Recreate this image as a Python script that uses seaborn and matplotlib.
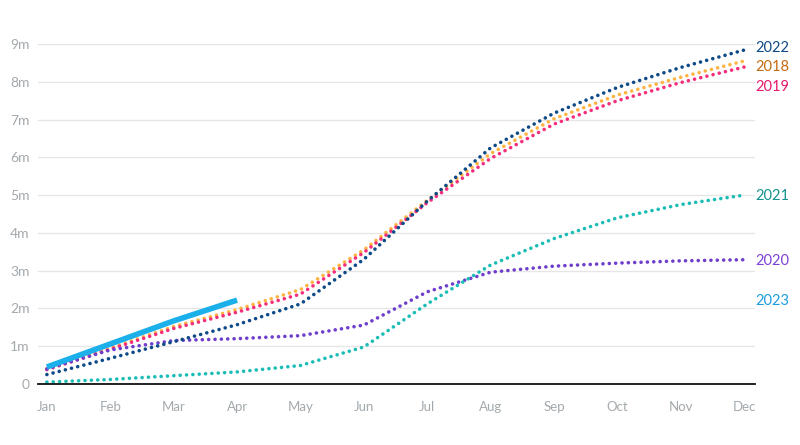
import matplotlib
matplotlib.use("Agg")
import matplotlib.pyplot as plt
import seaborn as sns
import pandas as pd
import numpy as np

months = ["Jan", "Feb", "Mar", "Apr", "May", "Jun", "Jul", "Aug", "Sep", "Oct", "Nov", "Dec"]

v2018 = [0.40, 0.95, 1.52, 1.97, 2.50, 3.55, 4.86, 6.10, 7.02, 7.65, 8.12, 8.55]
v2019 = [0.38, 0.92, 1.47, 1.90, 2.38, 3.48, 4.80, 5.97, 6.88, 7.50, 7.98, 8.39]
v2020 = [0.40, 0.90, 1.15, 1.20, 1.28, 1.56, 2.44, 2.96, 3.12, 3.20, 3.26, 3.29]
v2021 = [0.05, 0.12, 0.22, 0.32, 0.49, 0.98, 2.12, 3.15, 3.85, 4.40, 4.75, 5.00]
v2022 = [0.25, 0.68, 1.12, 1.57, 2.12, 3.30, 4.84, 6.25, 7.17, 7.85, 8.38, 8.84]
v2023 = [0.45, 1.06, 1.67, 2.22]

series = {
    "2022": (v2022, "#0e4a87", "#0e4a87"),
    "2018": (v2018, "#ffb340", "#c46a10"),
    "2019": (v2019, "#f52e7c", "#e5186c"),
    "2021": (v2021, "#19bdb5", "#13928e"),
    "2020": (v2020, "#6e3fcc", "#7b42d6"),
    "2023": (v2023, "#1bb0ea", "#1b9ee0"),
}
label_y = {"2022": 8.9, "2018": 8.38, "2019": 7.85, "2021": 4.97, "2020": 3.25, "2023": 2.2}

sns.set_theme(style="white")
plt.rcParams["font.family"] = ["Lato", "DejaVu Sans"]

fig = plt.figure(figsize=(8, 4.45), dpi=100)
ax = fig.add_axes([38 / 800, 1 - 384 / 445, (755 - 38) / 800, (384 - 44) / 445])

order = ["2018", "2019", "2020", "2021", "2022"]
for name in order:
    vals, col, _ = series[name]
    df = pd.DataFrame({"m": np.arange(len(vals)), "v": vals})
    sns.lineplot(data=df, x="m", y="v", ax=ax, color=col, linewidth=2.6,
                 linestyle=(0, (0.01, 1.75)), dash_capstyle="round", clip_on=False)
vals, col, _ = series["2023"]
df = pd.DataFrame({"m": np.arange(len(vals)), "v": vals})
sns.lineplot(data=df, x="m", y="v", ax=ax, color=col, linewidth=4,
             solid_capstyle="butt", clip_on=False)

for name, (vals, col, tcol) in series.items():
    ax.text(11.18, label_y[name], name, color=tcol, fontsize=10.5,
            va="center", ha="left", transform=ax.transData, clip_on=False)

ax.set_xlim(-0.14, 11.17)
ax.set_ylim(0, 9)
ax.set_xticks(range(12))
ax.set_xticklabels(months)
ax.set_yticks(range(10))
ax.set_yticklabels(["0"] + [f"{i}m" for i in range(1, 10)])
ax.set_xlabel("")
ax.set_ylabel("")
ax.grid(axis="y", color="#e6e6e6", linewidth=1)
ax.grid(axis="x", visible=False)
for s in ["top", "right", "left"]:
    ax.spines[s].set_visible(False)
ax.spines["bottom"].set_color("#111111")
ax.spines["bottom"].set_linewidth(1.3)
ax.tick_params(axis="x", colors="#a3a9ad", labelsize=9.5, length=5, width=1,
               direction="out", pad=7)
ax.tick_params(axis="x", color="#333333")
ax.tick_params(axis="y", colors="#a3a9ad", labelsize=10, length=0, pad=6)
ax.set_axisbelow(True)

fig.savefig("out.png", dpi=100)
